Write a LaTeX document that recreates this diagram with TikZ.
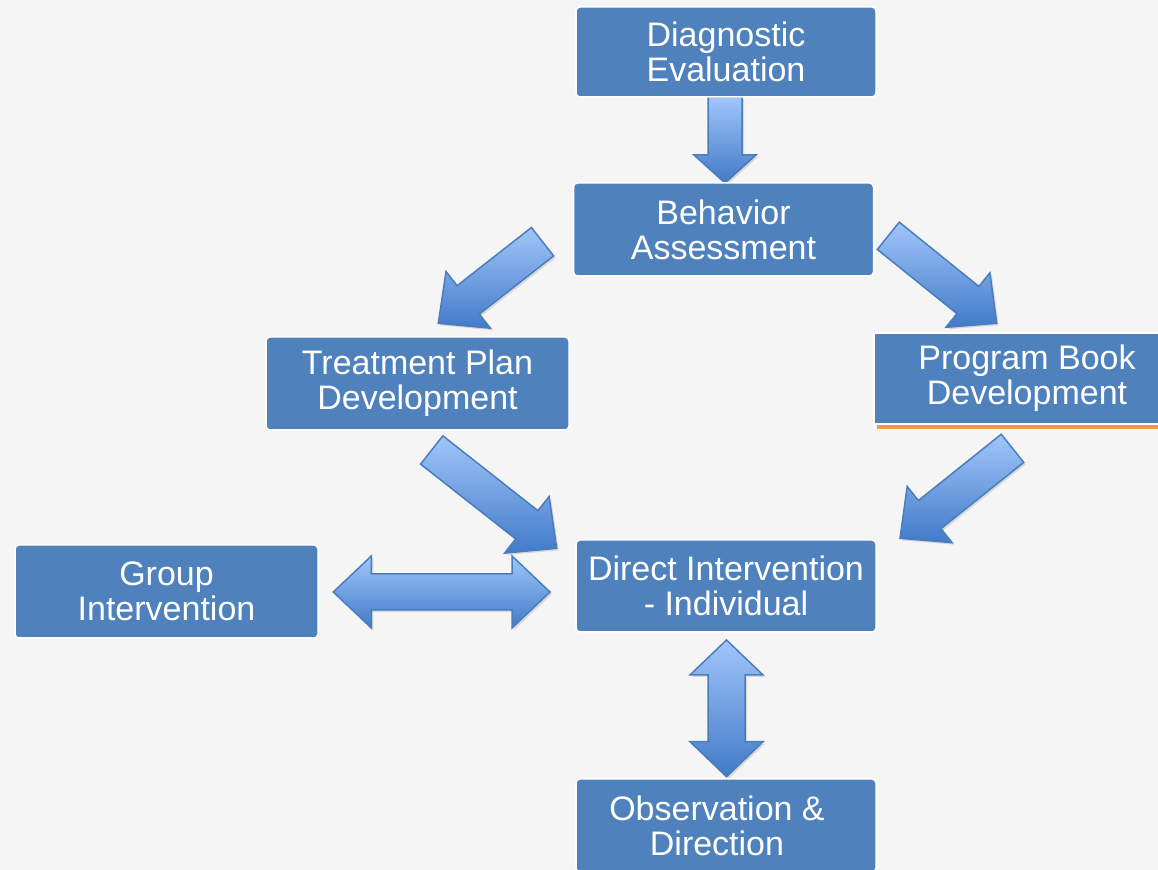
\documentclass[tikz,border=0pt]{standalone}
\usepackage{fontspec}
\setmainfont{Liberation Sans}
\usepackage{tikz}
\usetikzlibrary{calc, shadows}
\tikzset{>=latex}
\definecolor{mybg}{RGB}{245, 245, 245}
\definecolor{myblue}{RGB}{79, 129, 189}
\definecolor{myedge}{RGB}{74, 126, 187}
\definecolor{mylight}{RGB}{160, 198, 250}
\definecolor{mydark}{RGB}{66, 122, 200}
\definecolor{myorange}{RGB}{247, 150, 70}
\tikzset{
  stage/.style = {rectangle, rounded corners = 2pt, draw = white, line width = 0.75pt,
    fill = myblue, text = white, align = center, inner sep = 0pt,
    minimum width = 150pt, minimum height = 46pt,
    font = \fontsize{17pt}{17.5pt}\selectfont},
  blockarrow/.style = {draw = myedge, line width = 0.75pt, line join = miter,
    top color = mylight, bottom color = mydark,
    drop shadow = {shadow xshift = 1pt, shadow yshift = -1pt, opacity = 0.25}}
}
% tail, tip, half shaft, half head, head length
\newcommand{\onewayarrow}[5]{%
  \coordinate (hb) at ($(#2)!#5!(#1)$);
  \path[blockarrow] ($(#1)!#3!90:(#2)$) -- ($(hb)!#3!90:(#2)$) -- ($(hb)!#4!90:(#2)$)
    -- (#2) -- ($(hb)!#4!-90:(#2)$) -- ($(hb)!#3!-90:(#2)$) -- ($(#1)!#3!-90:(#2)$) -- cycle;}
% end, end, half shaft, half head, head length
\newcommand{\twowayarrow}[5]{%
  \coordinate (ha) at ($(#1)!#5!(#2)$);
  \coordinate (hb) at ($(#2)!#5!(#1)$);
  \path[blockarrow] (#1) -- ($(ha)!#4!90:(#2)$) -- ($(ha)!#3!90:(#2)$) -- ($(hb)!#3!90:(#2)$)
    -- ($(hb)!#4!90:(#2)$) -- (#2) -- ($(hb)!#4!-90:(#2)$) -- ($(hb)!#3!-90:(#2)$)
    -- ($(ha)!#3!-90:(#2)$) -- ($(ha)!#4!-90:(#2)$) -- cycle;}
\begin{document}
\begin{tikzpicture}[x = 0.5pt, y = -0.5pt]
\useasboundingbox (0, 0) rectangle (1158, 870);
\fill[mybg] (0, 0) rectangle (1158, 870);
\clip (0, 0) rectangle (1158, 870);
% arrow ends
\coordinate (evalout) at (725, 97);
\coordinate (assessin) at (725, 183);
\coordinate (assessleft) at (542.5, 241.7);
\coordinate (planin) at (438.3, 323.3);
\coordinate (assessright) at (888.3, 235.8);
\coordinate (bookin) at (996.7, 323.3);
\coordinate (planout) at (431.7, 450);
\coordinate (directleft) at (556.7, 548.3);
\coordinate (bookout) at (1012.5, 448.3);
\coordinate (directright) at (900, 538.3);
\coordinate (groupend) at (333.3, 592);
\coordinate (directwest) at (550, 592);
\coordinate (directsouth) at (726.5, 640);
\coordinate (obsend) at (726.5, 776.7);
% arrows
\onewayarrow{evalout}{assessin}{8.5pt}{15.5pt}{14pt}
\onewayarrow{assessleft}{planin}{9pt}{18pt}{19pt}
\onewayarrow{assessright}{bookin}{8.75pt}{17.5pt}{18.5pt}
\onewayarrow{planout}{directleft}{9pt}{18pt}{19pt}
\onewayarrow{bookout}{directright}{9pt}{18pt}{19pt}
\twowayarrow{groupend}{directwest}{9pt}{18pt}{19pt}
\twowayarrow{directsouth}{obsend}{9.25pt}{18.25pt}{17.5pt}
% boxes
\node[stage, minimum height = 45pt] (eval) at (726, 52) {Diagnostic\\Evaluation};
\node[stage, minimum height = 46.5pt] (assess) at (723.5, 229.5) {Behavior\\Assessment};
\node[stage, minimum width = 151.5pt, minimum height = 46.5pt] (plan) at (417.5, 383.5) {Treatment Plan\\Development};
\node[stage, minimum width = 153pt, minimum height = 45.5pt, rounded corners = 0pt] (book) at (1027, 378.5) {Program Book\\Development};
\draw[myorange, line width = 2pt] ([xshift = 2pt, yshift = -1pt]book.south west) -- ([yshift = -1pt]book.south east);
\node[stage, minimum width = 151.5pt, minimum height = 46.5pt] (group) at (166.5, 591.5) {Group\\Intervention};
\node[stage] (direct) at (726, 586) {Direct Intervention\\- Individual};
\node[stage, minimum height = 46.5pt] (obs) at (726, 825.5) {Observation \&\hspace*{9pt}\\Direction\hspace*{9pt}};
\end{tikzpicture}
\end{document}
